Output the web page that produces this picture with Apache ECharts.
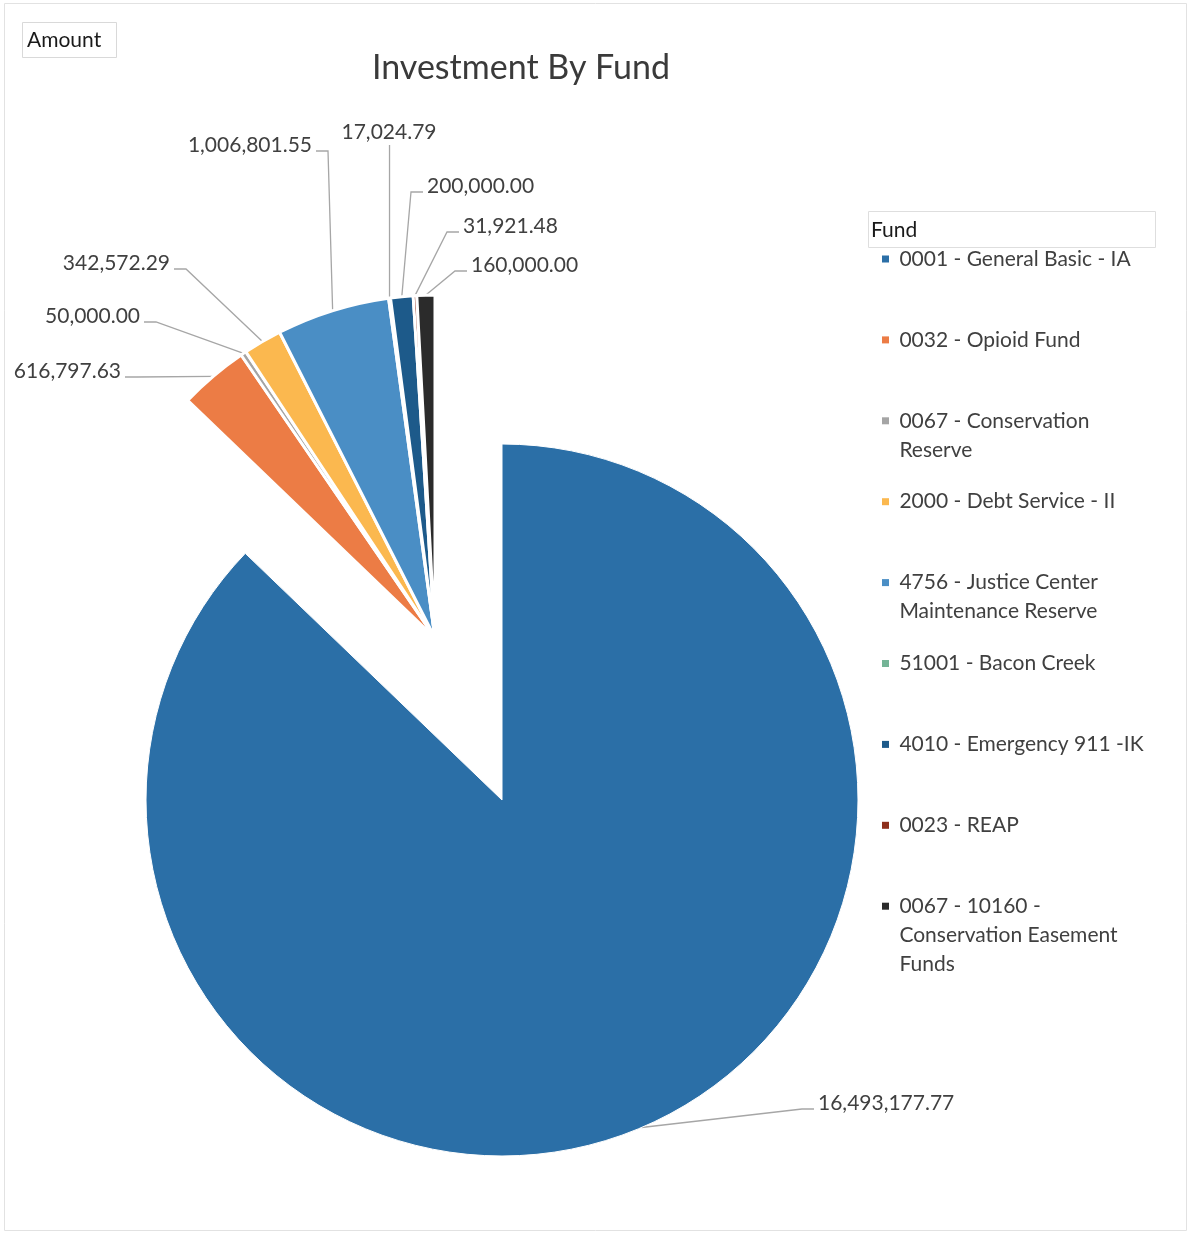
<!DOCTYPE html>
<html><head><meta charset="utf-8">
<script src="https://cdn.jsdelivr.net/npm/echarts@6/dist/echarts.min.js"></script>
<style>html,body{margin:0;padding:0;background:#fff}#c{width:1190px;height:1234px}</style>
</head><body><div id="c"></div>
<script>
// ---- data ----
const funds = [
  '0001 - General Basic - IA',
  '0032 - Opioid Fund',
  '0067 - Conservation Reserve',
  '2000 - Debt Service - II',
  '4756 - Justice Center Maintenance Reserve',
  '51001 - Bacon Creek',
  '4010 - Emergency 911 -IK',
  '0023 - REAP',
  '0067 - 10160 - Conservation Easement Funds'
];
const amounts = [16493177.77, 616797.63, 50000.00, 342572.29, 1006801.55, 17024.79, 200000.00, 31921.48, 160000.00];
const legendText = [
  '0001 - General Basic - IA',
  '0032 - Opioid Fund',
  '0067 - Conservation\nReserve',
  '2000 - Debt Service - II',
  '4756 - Justice Center\nMaintenance Reserve',
  '51001 - Bacon Creek',
  '4010 - Emergency 911 -IK',
  '0023 - REAP',
  '0067 - 10160 -\nConservation Easement\nFunds'
];
const colors = ['#2b6fa7', '#ec7c45', '#a5a5a5', '#fbb84f', '#4a8ec5', '#74b496', '#1d5a8a', '#8e2f1c', '#2b2b2b'];

// ---- layout / style ----
const FONT = 'Lato';
const TXT = '#404040';
const mainCenter = [502, 800], mainR = 356;
const restCenter = [435, 638], restR = 343;
const labelPos = {
  0: {x: 818, y: 1103, align: 'left'},
  1: {x: 121, y: 371, align: 'right'},
  2: {x: 140, y: 316, align: 'right'},
  3: {x: 170, y: 263, align: 'right'},
  4: {x: 312, y: 145, align: 'right'},
  5: {x: 389, y: 132, align: 'center'},
  6: {x: 427, y: 186, align: 'left'},
  7: {x: 463, y: 226, align: 'left'},
  8: {x: 471, y: 265, align: 'left'}
};
const fmt = v => v.toLocaleString('en-US', {minimumFractionDigits: 2, maximumFractionDigits: 2});
const hidden = {
  itemStyle: {color: 'rgba(0,0,0,0)', borderWidth: 0},
  label: {show: false}, labelLine: {show: false},
  emphasis: {disabled: true}, tooltip: {show: false}
};
function layoutFn(params) {
  const p = labelPos[params.dataIndex];
  if (!p || !params.labelLinePoints) return {};
  const a = params.labelLinePoints[0];
  let pts;
  if (p.align === 'right') pts = [a, [p.x + 16, p.y + 6], [p.x + 4, p.y + 6]];
  else if (p.align === 'left') pts = [a, [p.x - 16, p.y + 6], [p.x - 4, p.y + 6]];
  else pts = [a, [a[0], p.y + 13]];
  return {x: p.x, y: p.y, align: p.align, verticalAlign: 'middle', labelLinePoints: pts};
}
const restSum = amounts.slice(1).reduce((s, v) => s + v, 0);

const mainData = [
  {name: funds[0], value: amounts[0], itemStyle: {color: colors[0]}},
  Object.assign({name: '__rest', value: restSum}, hidden)
];
const restData = [Object.assign({name: '__main', value: amounts[0]}, hidden)].concat(
  funds.slice(1).map((n, i) => ({name: n, value: amounts[i + 1], itemStyle: {color: colors[i + 1]}}))
);

const common = {
  type: 'pie', startAngle: 90, clockwise: true, avoidLabelOverlap: false,
  label: {show: true, position: 'outside', color: TXT, fontFamily: FONT, fontSize: 21,
          formatter: p => fmt(p.value)},
  labelLine: {show: true, length: 10, length2: 10, smooth: false,
              lineStyle: {color: '#a6a6a6', width: 1.3}},
  labelLayout: layoutFn,
  emphasis: {scale: false}
};

// legends: one slot per fund, uniform pitch, icon aligned with first text line
// (blank lines are prepended so the text block is centred on the first line)
const LH = 29, firstY = 259, pitch = 80.9;
const legends = funds.map((name, i) => {
  const n = legendText[i].split('\n').length;
  return {
    orient: 'vertical', left: 882, top: firstY + i * pitch - (2 * n - 1) * LH / 2,
    padding: 0, data: [name], icon: 'rect', itemWidth: 7, itemHeight: 7,
    itemStyle: {borderWidth: 0},
    formatter: nm => {
      const lines = legendText[funds.indexOf(nm)].split('\n');
      return '\n'.repeat(lines.length - 1) + lines.map(s => ' ' + s).join('\n');
    },
    textStyle: {color: TXT, fontFamily: FONT, fontSize: 21, lineHeight: LH}
  };
});

const chart = echarts.init(document.getElementById('c'), null, {renderer: 'canvas'});
chart.setOption({
  backgroundColor: '#ffffff',
  animation: false,
  title: {text: 'Investment By Fund', left: 516, top: 46, textAlign: 'center',
          textStyle: {color: '#3a3a3a', fontFamily: FONT, fontSize: 34, fontWeight: 'normal'}},
  legend: legends,
  graphic: [
    {type: 'rect', shape: {x: 4.5, y: 3.5, width: 1182, height: 1227}, style: {fill: 'none', stroke: '#e2e2e2', lineWidth: 1}, silent: true},
    {type: 'rect', shape: {x: 22.5, y: 22.5, width: 94, height: 35}, style: {fill: '#fff', stroke: '#d9d9d9', lineWidth: 1}, silent: true},
    {type: 'text', x: 27, y: 40, style: {text: 'Amount', fill: '#1a1a1a', font: '21px ' + FONT, verticalAlign: 'middle'}, silent: true},
    {type: 'rect', shape: {x: 868.5, y: 211.5, width: 287, height: 36}, style: {fill: 'none', stroke: '#dedede', lineWidth: 1}, silent: true},
    {type: 'text', x: 871, y: 230, style: {text: 'Fund', fill: '#1a1a1a', font: '21px ' + FONT, verticalAlign: 'middle'}, silent: true}
  ],
  series: [
    Object.assign({}, common, {name: 'Amount', center: mainCenter, radius: mainR, data: mainData,
      itemStyle: {borderColor: '#fff', borderWidth: 1}}),
    Object.assign({}, common, {name: 'Amount ', center: restCenter, radius: restR, data: restData,
      itemStyle: {borderColor: '#fff', borderWidth: 3}})
  ]
});
</script>
</body></html>
